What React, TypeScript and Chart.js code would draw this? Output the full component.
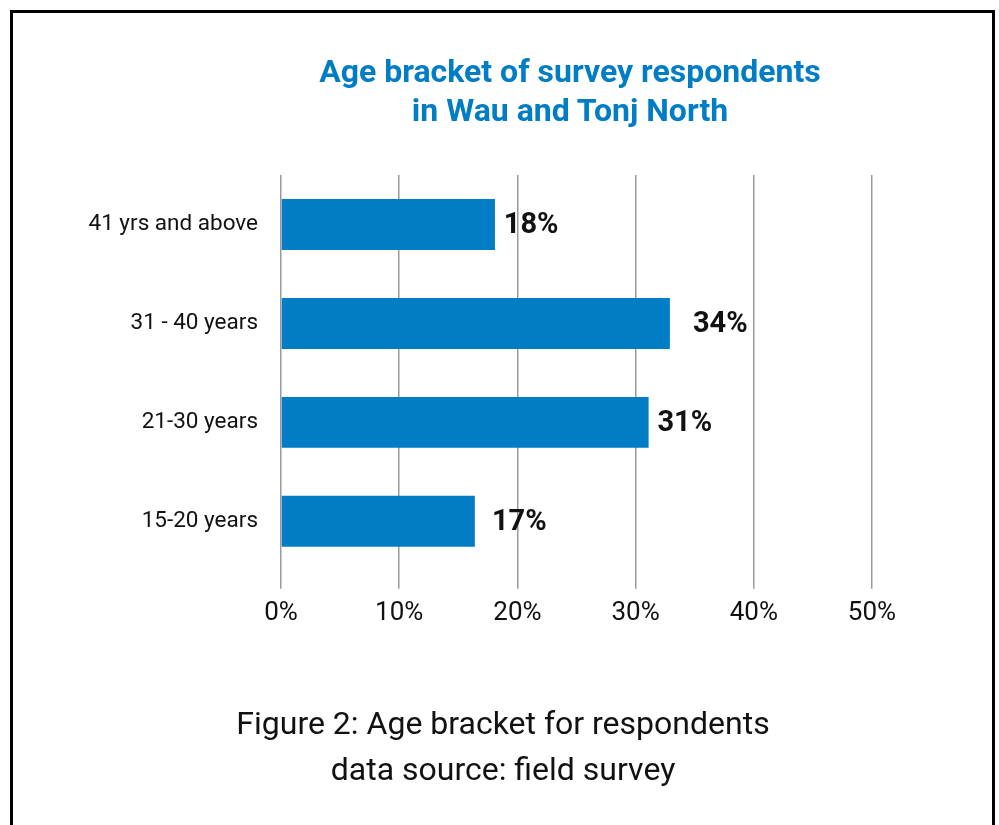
import React, { useEffect, useRef } from "react";
import { Chart, registerables } from "chart.js";

Chart.register(...registerables);

const categories = ["41 yrs and above", "31 - 40 years", "21-30 years", "15-20 years"];
const barValues = [18.1, 32.9, 31.1, 16.4];
const valueLabels = ["18%", "34%", "31%", "17%"];
const labelValues = [18, 34, 31, 17];
const xTickLabels = ["0%", "10%", "20%", "30%", "40%", "50%"];

const titleLines = ["Age bracket of survey respondents", "in Wau and Tonj North"];
const captionLines = ["Figure 2: Age bracket for respondents", "data source: field survey"];

const BLUE = "#007dc5";
const GRID = "#9a9a9a";
const TEXT = "#111111";
const FONT = "Roboto, 'Noto Sans', sans-serif";

export default function App() {
  const ref = useRef<HTMLCanvasElement>(null);

  useEffect(() => {
    const labelPlugin = {
      id: "valueLabels",
      afterDatasetsDraw(chart: any) {
        const { ctx } = chart;
        const xs = chart.scales.x;
        const meta = chart.getDatasetMeta(0);
        ctx.save();
        ctx.font = `bold 29px ${FONT}`;
        ctx.fillStyle = TEXT;
        ctx.textAlign = "left";
        ctx.textBaseline = "middle";
        meta.data.forEach((bar: any, i: number) => {
          const x = xs.getPixelForValue(labelValues[i]) + 10;
          ctx.fillText(valueLabels[i], x, bar.y + 1);
        });
        ctx.restore();
      },
    };

    const chart = new Chart(ref.current as HTMLCanvasElement, {
      type: "bar",
      data: {
        labels: categories,
        datasets: [
          {
            data: barValues,
            backgroundColor: BLUE,
            borderWidth: 0,
            categoryPercentage: 1,
            barPercentage: 0.515,
          },
        ],
      },
      options: {
        indexAxis: "y",
        animation: false,
        responsive: false,
        maintainAspectRatio: false,
        layout: { padding: { top: 175, right: 127, bottom: 187, left: 0 } },
        plugins: {
          legend: { display: false },
          tooltip: { enabled: false },
          title: { display: false },
        },
        scales: {
          x: {
            min: 0,
            max: 50,
            grid: {
              color: GRID,
              lineWidth: 1.5,
              drawTicks: true,
              tickLength: 18,
              tickColor: GRID,
              tickWidth: 1.5,
            },
            border: { display: false },
            ticks: {
              stepSize: 10,
              padding: 9,
              color: TEXT,
              font: { family: FONT, size: 26 },
              callback: (_v: any, i: number) => xTickLabels[i],
            },
          },
          y: {
            afterFit: (s: any) => {
              s.width = 281;
            },
            grid: { display: false, drawTicks: false },
            border: { display: false },
            ticks: {
              padding: 23,
              color: TEXT,
              font: { family: FONT, size: 22.5 },
            },
          },
        },
      },
      plugins: [labelPlugin],
    } as any);
    return () => chart.destroy();
  }, []);

  return (
    <div
      style={{
        position: "absolute",
        left: 0,
        top: 0,
        width: 999,
        height: 825,
        overflow: "hidden",
        background: "#fff",
      }}
    >
      <div
        style={{
          position: "absolute",
          left: 10,
          top: 10,
          width: 985,
          height: 900,
          border: "3px solid #000",
          boxSizing: "border-box",
        }}
      />
      <canvas
        ref={ref}
        width={999}
        height={825}
        style={{ position: "absolute", left: 0, top: 0, width: 999, height: 825, display: "block" }}
      />
      <div
        style={{
          position: "absolute",
          left: 0,
          top: 52,
          width: 1140,
          textAlign: "center",
          fontFamily: FONT,
          fontWeight: 700,
          fontSize: 32,
          lineHeight: "39px",
          color: BLUE,
        }}
      >
        {titleLines.map((t) => (
          <div key={t}>{t}</div>
        ))}
      </div>
      <div
        style={{
          position: "absolute",
          left: 0,
          top: 700,
          width: 1006,
          textAlign: "center",
          fontFamily: FONT,
          fontWeight: 400,
          fontSize: 32,
          lineHeight: "46px",
          color: TEXT,
        }}
      >
        {captionLines.map((t) => (
          <div key={t}>{t}</div>
        ))}
      </div>
    </div>
  );
}
